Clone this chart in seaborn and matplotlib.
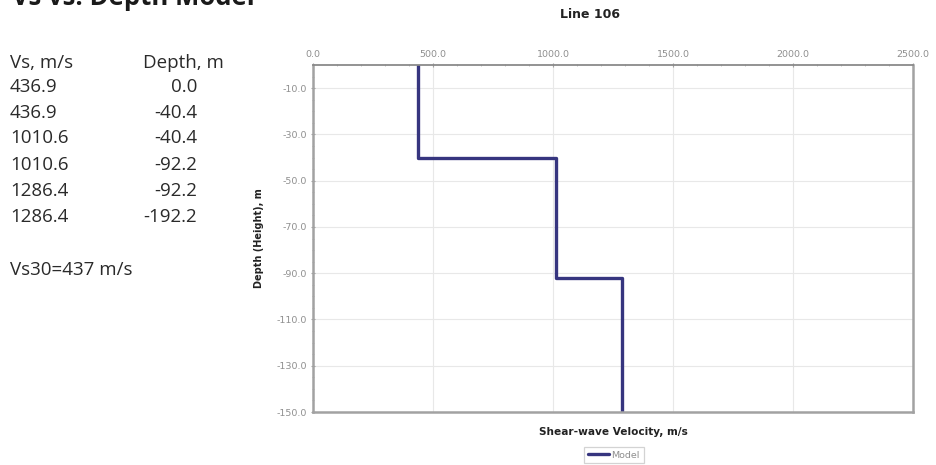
import matplotlib
matplotlib.use("Agg")
import matplotlib.pyplot as plt
from matplotlib.ticker import MultipleLocator, FormatStrFormatter
import seaborn as sns
import pandas as pd

# Layered shear-wave velocity model (step profile)
vs_values = [436.9, 436.9, 1010.6, 1010.6, 1286.4, 1286.4]
depth_values = [0.0, -40.4, -40.4, -92.2, -92.2, -192.2]
vs30 = 437
series_name = "Model"
line_title = "Line 106"

sns.set_style("white")
plt.rcParams["font.family"] = ["DejaVu Sans"]

W, H = 936, 465
fig = plt.figure(figsize=(W / 100, H / 100), dpi=100)

# axes box in pixel coordinates
left, right, top, bottom = 313, 913, 65, 412
ax = fig.add_axes([left / W, 1 - bottom / H, (right - left) / W, (bottom - top) / H])

line_color = "#36357f"
df = pd.DataFrame({"vs": vs_values, "depth": depth_values, "series": series_name})
sns.lineplot(data=df, x="vs", y="depth", sort=False, estimator=None,
             color=line_color, linewidth=2.4, ax=ax, legend=False)

ax.set_xlim(0, 2500)
ax.set_ylim(-150, 0)

ax.xaxis.tick_top()
ax.xaxis.set_major_locator(MultipleLocator(500))
ax.xaxis.set_minor_locator(MultipleLocator(100))
ax.xaxis.set_major_formatter(FormatStrFormatter("%.1f"))
ax.set_yticks([-10, -30, -50, -70, -90, -110, -130, -150])
ax.yaxis.set_minor_locator(MultipleLocator(5))
ax.yaxis.set_major_formatter(FormatStrFormatter("%.1f"))

ax.tick_params(axis="both", which="major", labelsize=6.8, labelcolor="#8f8f8f",
               color="#a0a0a0", length=3, width=0.8, pad=3)
ax.tick_params(axis="both", which="minor", color="#b8b8b8", length=2, width=0.6)
ax.tick_params(axis="x", which="both", top=True, bottom=False, direction="inout")
ax.tick_params(axis="y", which="both", left=True, direction="inout")

ax.grid(True, which="major", color="#e8e8e8", linewidth=0.8)
ax.set_axisbelow(True)
for side, sp in ax.spines.items():
    sp.set_visible(True)
    sp.set_color("#a2a2a2" if side != "top" else "#8a8a8a")
    sp.set_linewidth(1.8 if side != "top" else 1.3)

ax.set_xlabel("")
ax.set_ylabel("Depth (Height), m", fontsize=7, fontweight="bold", color="#222222", labelpad=9)

# chart title and x-axis caption
fig.text(590 / W, 1 - 14 / H, line_title, ha="center", va="center",
         fontsize=9, fontweight="bold", color="#222222")
fig.text((left + right) / 2 / W, 1 - 432 / H, "Shear-wave Velocity, m/s",
         ha="center", va="center", fontsize=7.6, fontweight="bold", color="#222222")

handle = plt.Line2D([], [], color=line_color, linewidth=2.4)
leg = fig.legend([handle], [series_name], loc="center", bbox_to_anchor=(614 / W, 1 - 455 / H),
                 fontsize=6.8, frameon=True, fancybox=False, handlelength=2.2,
                 handletextpad=0.3, borderpad=0.4, labelcolor="#8f8f8f")
leg.get_frame().set_edgecolor("#c8c8c8")
leg.get_frame().set_linewidth(0.9)

# left-hand table of model values
txt_font = ["Open Sans", "DejaVu Sans"]
txt_color = "#2a2a2a"
txt_size = 13.5
fig.text(12 / W, 1 - 5 / H, "Vs vs. Depth Model", ha="left", va="baseline",
         fontsize=18.5, fontweight="bold", color="#1a1a1a", family=txt_font)
fig.text(10 / W, 1 - 63 / H, "Vs, m/s", ha="left", va="center",
         fontsize=txt_size, color=txt_color, family=txt_font)
fig.text(143 / W, 1 - 63 / H, "Depth, m", ha="left", va="center",
         fontsize=txt_size, color=txt_color, family=txt_font)
row_y = [87, 113, 138, 165, 191, 217]
for yy, v, d in zip(row_y, vs_values, depth_values):
    fig.text(10 / W, 1 - yy / H, f"{v:.1f}", ha="left", va="center",
             fontsize=txt_size, color=txt_color, family=txt_font)
    fig.text(197 / W, 1 - yy / H, f"{d:.1f}", ha="right", va="center",
             fontsize=txt_size, color=txt_color, family=txt_font)
fig.text(10 / W, 1 - 270 / H, f"Vs30={vs30} m/s", ha="left", va="center",
         fontsize=txt_size, color=txt_color, family=txt_font)

fig.savefig("out.png", dpi=100, facecolor="white")
